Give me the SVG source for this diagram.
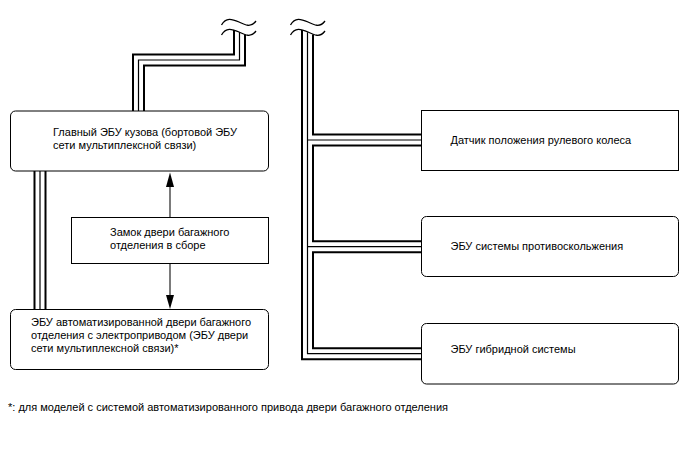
<svg xmlns="http://www.w3.org/2000/svg" width="688" height="463" viewBox="0 0 688 463">
<style>
.box{fill:#fff;stroke:#000;stroke-width:1}
.t{font-family:"Liberation Sans",Arial,sans-serif;font-size:11px;fill:#000}
.busA{fill:none;stroke:#000;stroke-width:13;stroke-linejoin:miter}
.busB{fill:none;stroke:#fff;stroke-width:9;stroke-linejoin:miter}
.busC{fill:none;stroke:#000;stroke-width:1.2;stroke-linejoin:miter}
.tilde{fill:none;stroke:#000;stroke-width:1.3}
.arr{stroke:#222;stroke-width:1.2;fill:none}
</style>
<defs>
<marker id="ah" viewBox="0 0 8 14" refX="8" refY="4" markerWidth="8" markerHeight="14" markerUnits="userSpaceOnUse" orient="auto">
<path d="M0,0 L14,4 L0,8 Z" fill="#000"/>
</marker>
</defs>
<rect width="688" height="463" fill="#fff"/>
<g id="connectors">
<g id="buses">
<path class="busA" d="M239.5,28 V60 H138.5 V120"/>
<path class="busA" d="M40,160 V320"/>
<path class="busA" d="M307.5,28 V353.7 H422 M307.5,140 H422 M307.5,246.7 H422"/>
<path class="busB" d="M239.5,28 V60 H138.5 V120"/>
<path class="busB" d="M40,160 V320"/>
<path class="busB" d="M307.5,28 V353.7 H422 M307.5,140 H422 M307.5,246.7 H422"/>
<path class="busC" d="M239.5,28 V60 H138.5 V120"/>
<path class="busC" d="M40,160 V320"/>
<path class="busC" d="M307.5,28 V353.7 H422 M307.5,140 H422 M307.5,246.7 H422"/>
<path d="M220,35 C226,27 232,29 239,32 C245,35 251,38 258,30 L258,0 L220,0 Z" fill="#fff"/>
<path d="M288,35 C294,27 300,29 307,32 C313,35 319,38 326,30 L326,0 L288,0 Z" fill="#fff"/>
<path class="tilde" d="M221.5,25 C226,17 232,19 239,22 C245,25 251,28 256,21"/>
<path class="tilde" d="M221.5,35 C226,27 232,29 239,32 C245,35 251,38 256,31"/>
<path class="tilde" d="M290.5,25 C295,17 301,19 308,22 C314,25 320,28 325,21"/>
<path class="tilde" d="M290.5,35 C295,27 301,29 308,32 C314,35 320,38 325,31"/>
</g>
<g id="arrows">
<path d="M170,217 V186" class="arr"/>
<path d="M166,187 L170,172.5 L174,187 Z" fill="#000"/>
<path d="M170,263.5 V296" class="arr"/>
<path d="M166,295 L170,309 L174,295 Z" fill="#000"/>
</g>
</g>
<g id="main-body-ecu">
<rect class="box" x="10.5" y="111" width="258" height="60" rx="5"/>
<text class="t" x="53" y="136">Главный ЭБУ кузова (бортовой ЭБУ</text>
<text class="t" x="53" y="148.5">сети мультиплексной связи)</text>
</g>
<g id="back-door-lock">
<rect class="box" x="71.5" y="217.5" width="197" height="46"/>
<text class="t" x="110" y="236">Замок двери багажного</text>
<text class="t" x="110" y="248.5">отделения в сборе</text>
</g>
<g id="power-back-door-ecu">
<rect class="box" x="10.5" y="309.5" width="258" height="60" rx="5"/>
<text class="t" x="31" y="326">ЭБУ автоматизированной двери багажного</text>
<text class="t" x="31" y="339">отделения с электроприводом (ЭБУ двери</text>
<text class="t" x="31" y="351.7">сети мультиплексной связи)*</text>
</g>
<g id="steering-sensor">
<rect class="box" x="421.5" y="110.5" width="257" height="60"/>
<text class="t" x="450.5" y="143.5">Датчик положения рулевого колеса</text>
</g>
<g id="skid-control-ecu">
<rect class="box" x="421.5" y="216.5" width="257" height="60" rx="5"/>
<text class="t" x="450.5" y="249.5">ЭБУ системы противоскольжения</text>
</g>
<g id="hybrid-ecu">
<rect class="box" x="421.5" y="323.5" width="257" height="60.5" rx="5"/>
<text class="t" x="450.5" y="353">ЭБУ гибридной системы</text>
</g>
<text class="t" x="8" y="411">*: для моделей с системой автоматизированного привода двери багажного отделения</text>
</svg>
